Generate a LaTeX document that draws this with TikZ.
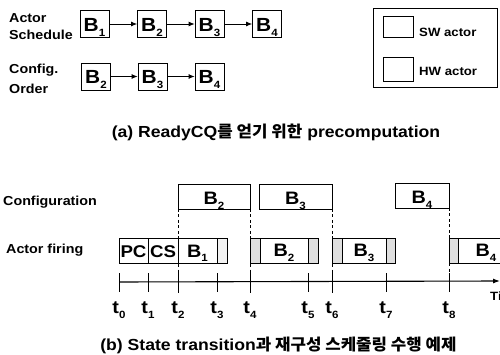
\documentclass[tikz,border=0pt]{standalone}
\usepackage{fontspec}
\setmainfont{Liberation Sans}[FakeStretch=1.1]
\newfontfamily\krfont{Noto Sans CJK KR}[FakeStretch=1.05]
\usetikzlibrary{arrows.meta}
\newcommand\sbs[1]{\raisebox{-5pt}{\fontsize{10.5}{10.5}\selectfont #1}}
\newcommand\fsz[1]{\fontsize{#1}{#1}\selectfont}
\begin{document}
\begin{tikzpicture}[x=1pt,y=-1pt,
  blk/.style={draw, line width=0.8pt, minimum width=29pt, minimum height=27pt, inner sep=0pt, text height=15pt, text depth=0pt, font=\bfseries\fsz{19}},
  lab/.style={anchor=base west, inner sep=0pt, font=\bfseries\fsz{13}},
  arr/.style={line width=0.8pt, -{Latex[length=6pt,width=5pt]}},
  tbox/.style={draw, line width=0.8pt},
  hwseg/.style={draw, line width=0.8pt, fill=gray!25},
  txt/.style={anchor=base, inner sep=0pt, font=\bfseries\fsz{18}},
  guide/.style={line width=0.8pt, dash pattern=on 3pt off 2.5pt},
  captxt/.style={anchor=base, inner sep=0pt, font=\bfseries\fsz{16}},
  legsq/.style={draw, line width=0.8pt, minimum width=30pt, inner sep=0pt},
]
\useasboundingbox (0,0) rectangle (500,355);
\clip (0,0) rectangle (500,355);

% ---------- (a) ----------
\node[lab] (l1) at (9,23) {Actor};
\node[lab] (l2) at (9,40) {Schedule};
\node[lab] (l3) at (9,74) {Config.};
\node[lab] (l4) at (9,94) {Order};

\node[blk] (s1) at (94.5,24) {B\sbs1};
\node[blk] (s2) at (152,24) {B\sbs2};
\node[blk] (s3) at (209.5,24) {B\sbs3};
\node[blk] (s4) at (267,24) {B\sbs4};
\draw[arr] (s1) -- (s2);
\draw[arr] (s2) -- (s3);
\draw[arr] (s3) -- (s4);

\node[blk] (c1) at (96,76.5) {B\sbs2};
\node[blk] (c2) at (152.5,76.5) {B\sbs3};
\node[blk] (c3) at (209.5,76.5) {B\sbs4};
\draw[arr] (c1) -- (c2);
\draw[arr] (c2) -- (c3);

% legend
\draw[tbox] (373,8) rectangle (497,87);
\node[legsq, minimum height=21pt] (sw) at (398,27) {};
\node[legsq, minimum height=24pt] (hw) at (398,69) {};
\node[anchor=base west, inner sep=0pt, font=\bfseries\fsz{12}] (swl) at (419,37) {SW actor};
\node[anchor=base west, inner sep=0pt, font=\bfseries\fsz{12}] (hwl) at (419,76) {HW actor};

\node[captxt] (capa) at (276,138) {(a) ReadyCQ{\krfont\bfseries 를 얻기 위한} precomputation};

% ---------- (b) ----------
\foreach \n/\x in {0/119,1/148,2/178,3/217,4/250,5/308,6/332,7/386,8/449}
  {\coordinate (t\n) at (\x,282);}

\node[lab] (lc) at (3,206) {Configuration};
\node[lab] (lf) at (6,253) {Actor firing};

% configuration boxes
\draw[tbox] (178,184) rectangle (250,209);
\draw[tbox] (259,184) rectangle (332,209);
\draw[tbox] (395,183) rectangle (449,208);
\node[txt] (cb2) at (214,205) {B\sbs2};
\node[txt] (cb3) at (295.5,205) {B\sbs3};
\node[txt] (cb4) at (422,204) {B\sbs4};

% actor firing boxes
\draw[tbox] (119,238) rectangle (148,263);
\draw[tbox] (148,238) rectangle (178,263);
\draw[tbox] (178,238) rectangle (217,263);
\draw[tbox, fill=gray!10] (217,238) rectangle (227,263);
\draw[hwseg] (250,238) rectangle (260,263);
\draw[tbox] (260,238) rectangle (308,263);
\draw[hwseg] (308,238) rectangle (318,263);
\draw[hwseg] (332,238) rectangle (342,263);
\draw[tbox] (342,238) rectangle (386,263);
\draw[hwseg] (386,238) rectangle (395,263);
\draw[hwseg] (449,238) rectangle (458,263);
\draw[tbox] (458,238) rectangle (515,263);
\node[txt, font=\bfseries\fsz{17}] (fpc) at (133.5,257) {PC};
\node[txt, font=\bfseries\fsz{17}] (fcs) at (163,257) {CS};
\node[txt] (fb1) at (197.5,257) {B\sbs1};
\node[txt] (fb2) at (284,256.5) {B\sbs2};
\node[txt] (fb3) at (364,256.5) {B\sbs3};
\node[txt] (fb4) at (486,256.5) {B\sbs4};

% dashed guides
\foreach \x in {178,250,332}
  {\draw[guide] (\x,209) -- (\x,292);}
\draw[guide] (449,208) -- (449,292);

% time axis
\coordinate (tend) at (500,281);
\draw[line width=1.1pt, -{Latex[length=7pt,width=5pt]}] (t0) -- (tend);
\foreach \n in {0,...,8}
  {\draw[line width=0.9pt] (t\n) ++(0,-9) -- ++(0,19);}
\foreach \n/\x in {0/119,1/148,2/178,3/217,4/250,5/308,6/332,7/386,8/449}
  {\node[txt] (lt\n) at (\x,313) {t\sbs{\n}};}
\node[anchor=base west, inner sep=0pt, font=\bfseries\fsz{12}] (time) at (490,300) {Time};

\node[captxt] (capb) at (278.5,350) {(b) State transition{\krfont\bfseries 과 재구성 스케줄링 수행 예제}};
\end{tikzpicture}
\end{document}
